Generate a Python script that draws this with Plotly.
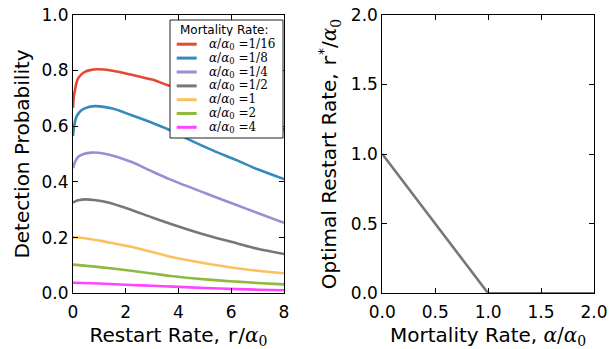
import plotly.graph_objects as go

# ---------------- data ----------------
labels = ["1/16", "1/8", "1/4", "1/2", "1", "2", "4"]
colors = ["#E24A33", "#348ABD", "#988ED5", "#777777", "#FBC15E", "#8EBA42", "#FF44FF"]

r_116 = [0, 0.03, 0.076, 0.13, 0.2, 0.32, 0.45, 0.65, 0.9, 1.5, 2.2, 3, 3.6, 4.5, 5.5, 6.5, 7.3, 8]
p_116 = [0.665, 0.705, 0.73, 0.755, 0.772, 0.786, 0.795, 0.801, 0.804, 0.799, 0.785, 0.767, 0.747, 0.72, 0.69, 0.655, 0.625, 0.586]

r_18 = [0, 0.05, 0.14, 0.33, 0.6, 0.87, 1.5, 2.2, 3, 3.6, 4.44, 5.3, 6.2, 7, 8]
p_18 = [0.565, 0.604, 0.636, 0.658, 0.669, 0.672, 0.663, 0.64, 0.612, 0.589, 0.55, 0.513, 0.478, 0.445, 0.41]

r_14 = [0, 0.08, 0.2, 0.4, 0.7, 1.2, 2.2, 3, 3.7, 5, 6.2, 7, 8]
p_14 = [0.449, 0.472, 0.49, 0.5, 0.505, 0.501, 0.472, 0.437, 0.408, 0.36, 0.317, 0.288, 0.253]

r_12 = [0, 0.1, 0.25, 0.45, 0.8, 1.3, 2.2, 3, 3.8, 5, 6.2, 7, 8]
p_12 = [0.325, 0.331, 0.335, 0.337, 0.335, 0.327, 0.30, 0.272, 0.246, 0.21, 0.18, 0.16, 0.141]

r_1 = [0, 0.5, 1, 1.6, 2.2, 3, 3.7, 5, 6.2, 7, 8]
p_1 = [0.201, 0.197, 0.189, 0.178, 0.167, 0.148, 0.131, 0.108, 0.09, 0.081, 0.072]

r_2 = [0, 1, 2.2, 3, 3.7, 5, 6.2, 7, 8]
p_2 = [0.103, 0.094, 0.081, 0.071, 0.062, 0.05, 0.042, 0.037, 0.032]

r_4 = [0, 1, 2.2, 3, 3.8, 5, 6.2, 7, 8]
p_4 = [0.038, 0.035, 0.030, 0.027, 0.024, 0.019, 0.015, 0.013, 0.011]

mortality = [0, 1, 2]
optimal_restart = [1, 0, 0]

x_ticks_left = [0, 2, 4, 6, 8]
y_ticks_left = [0.0, 0.2, 0.4, 0.6, 0.8, 1.0]
ticks_right = [0.0, 0.5, 1.0, 1.5, 2.0]

series_r = [r_116, r_18, r_14, r_12, r_1, r_2, r_4]
series_p = [p_116, p_18, p_14, p_12, p_1, p_2, p_4]

# ---------------- figure ----------------
W, H = 610, 349
fig = go.Figure()

for rr, pp, c in zip(series_r, series_p, colors):
    fig.add_trace(go.Scatter(x=rr, y=pp, mode="lines", line=dict(color=c, width=2.6, shape="spline", smoothing=0.8),
                             xaxis="x", yaxis="y", showlegend=False, hoverinfo="skip"))

fig.add_trace(go.Scatter(x=mortality, y=optimal_restart, mode="lines", line=dict(color="#777777", width=2.6),
                         xaxis="x2", yaxis="y2", showlegend=False, hoverinfo="skip"))

tickfont = dict(family="DejaVu Sans", size=17, color="black")
titlefont = dict(family="DejaVu Sans", size=20, color="black")
mono_r = "<span style='font-family:DejaVu Sans Mono'>r</span>"
a0 = "<span style='font-family:DejaVu Serif'><i>α</i><sub>0</sub></span>"
a_over_a0 = "<span style='font-family:DejaVu Serif'><i>α</i>/<i>α</i><sub>0</sub></span>"

common = dict(showline=True, linecolor="black", linewidth=1, mirror="ticks", ticks="inside",
              ticklen=5, tickwidth=1, tickcolor="black", showgrid=False, zeroline=False,
              tickfont=tickfont, automargin=False)

y0d, y1d = 1 - 293.3 / H, 1 - 14.7 / H

fig.update_layout(
    template="none",
    width=W, height=H, margin=dict(l=0, r=0, t=0, b=0, pad=0),
    paper_bgcolor="white", plot_bgcolor="white", showlegend=False,
    xaxis=dict(domain=[73 / W, 284 / W], range=[0, 8], tickvals=x_ticks_left, anchor="y", ticklabelstandoff=3,
               title=dict(text="Restart Rate, " + mono_r + "/" + a0, font=titlefont, standoff=12), **common),
    yaxis=dict(domain=[y0d, y1d], range=[0, 1], tickvals=y_ticks_left, tickformat=".1f", anchor="x",
               title=dict(text="Detection Probability", font=titlefont, standoff=6), **common),
    xaxis2=dict(domain=[382.3 / W, 594 / W], range=[0, 2], tickvals=ticks_right, tickformat=".1f", anchor="y2",
                ticklabelstandoff=3,
                title=dict(text="Mortality Rate, " + a_over_a0, font=titlefont, standoff=12), **common),
    yaxis2=dict(domain=[y0d, y1d], range=[0, 2], tickvals=ticks_right, tickformat=".1f", anchor="x2",
                title=dict(text="Optimal Restart Rate, " + mono_r + "<sup>*</sup>/" + a0, font=titlefont, standoff=8),
                **common),
)

# ---------------- manual legend ----------------
bx0, bx1, by0, by1 = 170, 283, 20, 138
fig.add_shape(type="rect", xref="paper", yref="paper", x0=bx0 / W, x1=bx1 / W, y0=1 - by1 / H, y1=1 - by0 / H,
              line=dict(color="#222222", width=1), fillcolor="white", layer="above")
fig.add_annotation(xref="paper", yref="paper", x=224 / W, y=1 - 29 / H, text="Mortality Rate:", showarrow=False,
                   xanchor="center", yanchor="middle", height=13, borderpad=0,
                   font=dict(family="DejaVu Sans", size=12, color="black"))
entry_y = [44.2, 58.1, 72.0, 85.9, 99.7, 113.5, 127.3]
for lab, c, yy in zip(labels, colors, entry_y):
    fig.add_shape(type="line", xref="paper", yref="paper", x0=176.7 / W, x1=196.7 / W, y0=1 - yy / H, y1=1 - yy / H,
                  line=dict(color=c, width=3), layer="above")
    fig.add_annotation(xref="paper", yref="paper", x=208 / W, y=1 - yy / H,
                       text="<i>α</i>/<i>α</i><sub>0</sub> =" + lab, showarrow=False, height=13, borderpad=0,
                       xanchor="left", yanchor="middle", font=dict(family="DejaVu Serif", size=12, color="black"))

fig.write_html("out.html", config={"displayModeBar": False},
               post_script="document.body.style.margin='0';document.body.style.padding='0';")
